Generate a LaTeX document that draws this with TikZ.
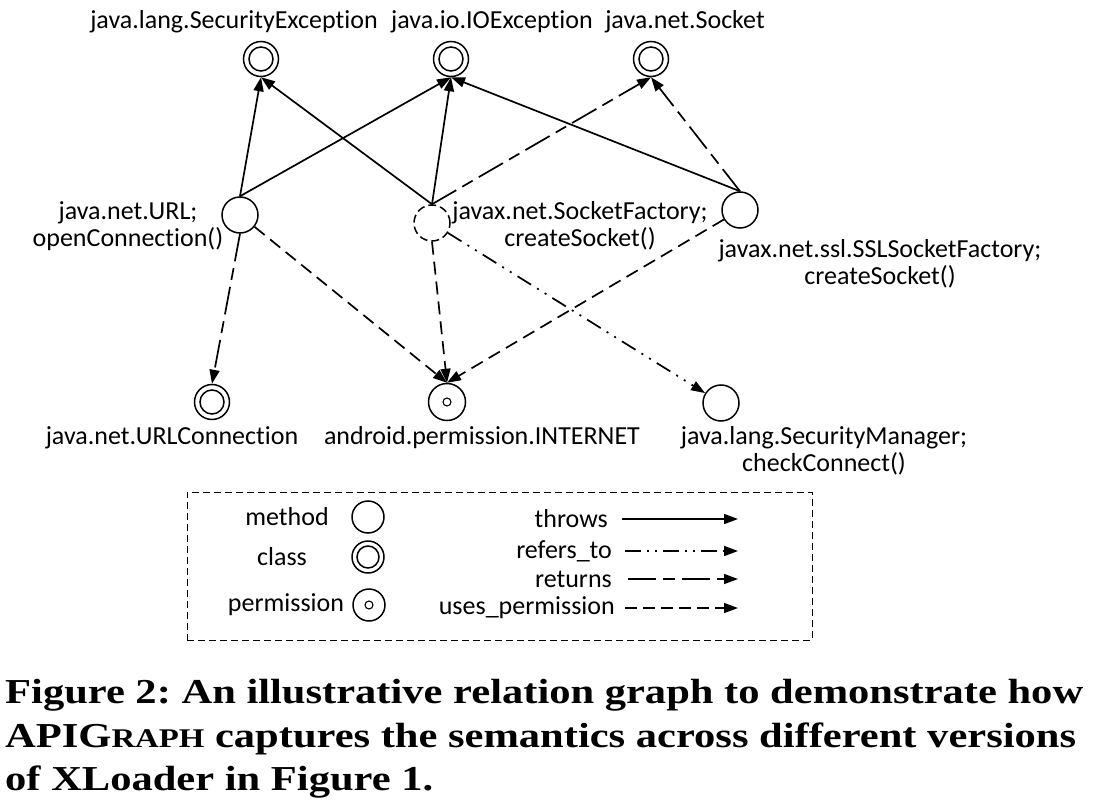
\documentclass[tikz,border=0pt]{standalone}
\usepackage{fontspec}
\setmainfont{Carlito}[RawFeature={-liga}]
\newfontfamily\capfont{Liberation Serif}
\usetikzlibrary{arrows.meta}
\frenchspacing
\tikzset{
  lbl/.style={font=\fontsize{26}{27}\selectfont, inner sep=0pt, align=center},
  capt/.style={font=\capfont\bfseries\fontsize{35}{44}\selectfont, inner sep=0pt, anchor=base west},
  meth/.style={circle, draw, line width=1.5pt, minimum size=36pt, inner sep=0pt},
  dmeth/.style={meth, dash pattern=on 8pt off 4pt},
  cls/.style={circle, draw, line width=1.5pt, minimum size=35pt, inner sep=0pt,
    path picture={\draw[line width=1.5pt] (path picture bounding box.center) circle (12pt);}},
  perm/.style={circle, draw, line width=1.5pt, minimum size=37pt, inner sep=0pt,
    path picture={\draw[line width=1.1pt] (path picture bounding box.center) circle (4pt);}},
  edge/.style={line width=1.7pt, -{Triangle[length=14pt,width=10pt]}},
  throws/.style={edge},
  returns/.style={edge, dash pattern=on 28pt off 7pt on 12pt off 7pt},
  uses/.style={edge, dash pattern=on 13pt off 7pt},
  refers/.style={edge, dash pattern=on 16pt off 7pt on 2pt off 7pt on 2pt off 7pt},
  legbox/.style={draw, line width=1pt, dash pattern=on 7pt off 4pt},
}
\newcommand{\capline}[1]{\scalebox{1.215}[1]{#1}}
\begin{document}
\begin{tikzpicture}[x=1pt,y=-1pt]
\useasboundingbox (0,0) rectangle (1094,810);
% nodes
\node[cls] (secex) at (261,59) {};
\node[cls] (ioex) at (451,59) {};
\node[cls] (sock) at (651,59) {};
\node[meth] (url) at (240,215) {};
\node[dmeth] (sf) at (432,223) {};
\node[meth] (ssl) at (740,210) {};
\node[cls] (urlc) at (212,402) {};
\node[perm] (inet) at (447,402) {};
\node[meth] (secm) at (721,403) {};
% labels
\node[lbl] (lsecex) at (234,22) {java.lang.SecurityException};
\node[lbl] (lioex) at (492,22) {java.io.IOException};
\node[lbl] (lsock) at (685,22) {java.net.Socket};
\node[lbl] (lurl) at (128,226) {java.net.URL;\\openConnection()};
\node[lbl] (lsf) at (580,226) {javax.net.SocketFactory;\\createSocket()};
\node[lbl] (lssl) at (880,264) {javax.net.ssl.SSLSocketFactory;\\createSocket()};
\node[lbl] (lurlc) at (172,438) {java.net.URLConnection};
\node[lbl] (linet) at (482,438) {android.permission.INTERNET};
\node[lbl] (lsecm) at (824,451) {java.lang.SecurityManager;\\checkConnect()};
% edges
\draw[throws] (url.north) -- (secex.south);
\draw[throws] (url.north) -- (ioex.south);
\draw[throws] (sf.north) -- (secex.south);
\draw[throws] (sf.north) -- (ioex.south);
\draw[returns] (sf.north) -- (sock.south);
\draw[throws] (ssl.north) -- (ioex.south);
\draw[returns] (ssl.north) -- (sock.south);
\draw[returns] (url.south) -- (urlc.north);
\draw[uses] (url) -- (inet.north);
\draw[uses] (sf.south) -- (inet.north);
\draw[uses] (ssl) -- (inet.north);
\draw[refers] (sf) -- (secm);
% legend
\node[legbox, minimum width=625pt, minimum height=148pt, inner sep=0pt] (leg) at (499.5,566) {};
\node[lbl] (lmeth) at (287,517) {method};
\node[meth, minimum size=32pt] (gmeth) at (368,517) {};
\node[lbl] (lcls) at (282,557) {class};
\node[cls, minimum size=32pt, path picture={\draw[line width=1.5pt] (path picture bounding box.center) circle (11pt);}] (gcls) at (368,557) {};
\node[lbl] (lperm) at (286,605) {permission};
\node[perm, minimum size=32pt] (gperm) at (369,605) {};
\node[lbl, anchor=east] (lthr) at (608,519) {throws};
\node[lbl, anchor=east] (lref) at (612,551) {refers\_to};
\node[lbl, anchor=east] (lret) at (612,579) {returns};
\node[lbl, anchor=east] (luse) at (615,608) {uses\_permission};
\coordinate (t1) at (738,519);
\coordinate (t2) at (738,551);
\coordinate (t3) at (738,579);
\coordinate (t4) at (738,608);
\draw[throws, line width=1.5pt] ([xshift=14pt]lthr.east) -- (t1);
\draw[refers, line width=1.5pt, dash pattern=on 16pt off 6pt on 2pt off 6pt on 2pt off 6pt] ([xshift=13pt]lref.east) -- (t2);
\draw[returns, line width=1.5pt, dash pattern=on 28pt off 7pt on 12pt off 7pt] ([xshift=16pt]lret.east) -- (t3);
\draw[uses, line width=1.5pt, dash pattern=on 12pt off 6pt] ([xshift=10pt]luse.east) -- (t4);
% caption
\node[capt] (c1) at (5,703) {\capline{Figure 2: An illustrative relation graph to demonstrate how}};
\node[capt] (c2) at (5,747) {\capline{APIG{\fontsize{27}{30}\selectfont RAPH} captures the semantics across different versions}};
\node[capt] (c3) at (5,790) {\capline{of XLoader in Figure 1.}};
\end{tikzpicture}
\end{document}
